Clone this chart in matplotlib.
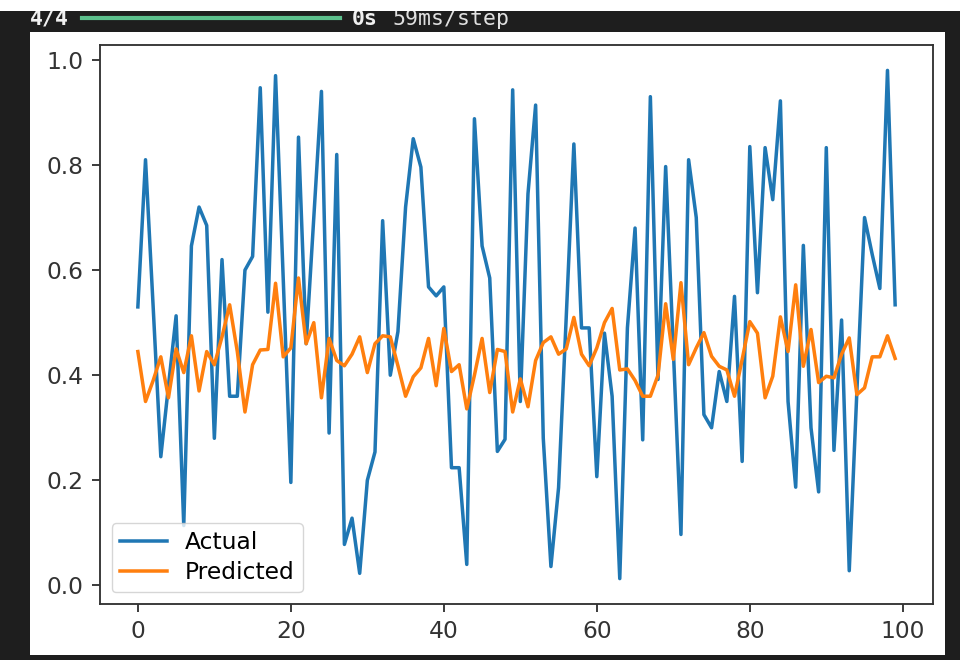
import numpy as np
import matplotlib
matplotlib.use("Agg")
import matplotlib.pyplot as plt
from matplotlib.patches import Rectangle
from matplotlib.lines import Line2D

# --- values (Actual vs Predicted, 100 samples) ---
actual = [0.53, 0.81, 0.53, 0.245, 0.38, 0.513, 0.114, 0.646, 0.72, 0.685,
          0.28, 0.62, 0.36, 0.36, 0.60, 0.626, 0.947, 0.52, 0.97, 0.585,
          0.196, 0.853, 0.46, 0.70, 0.94, 0.29, 0.82, 0.078, 0.128, 0.023,
          0.20, 0.254, 0.694, 0.40, 0.483, 0.72, 0.85, 0.796, 0.568, 0.551,
          0.568, 0.224, 0.224, 0.04, 0.888, 0.646, 0.585, 0.255, 0.278, 0.943,
          0.35, 0.745, 0.914, 0.28, 0.036, 0.186, 0.51, 0.84, 0.49, 0.49,
          0.207, 0.48, 0.36, 0.013, 0.49, 0.68, 0.277, 0.93, 0.392, 0.797,
          0.45, 0.097, 0.81, 0.70, 0.325, 0.30, 0.407, 0.35, 0.55, 0.236,
          0.835, 0.557, 0.833, 0.734, 0.922, 0.35, 0.187, 0.647, 0.30, 0.178,
          0.833, 0.257, 0.505, 0.028, 0.37, 0.70, 0.63, 0.565, 0.98, 0.534]

predicted = [0.445, 0.35, 0.39, 0.435, 0.357, 0.45, 0.405, 0.475, 0.37, 0.445,
             0.42, 0.473, 0.534, 0.445, 0.33, 0.42, 0.448, 0.449, 0.575, 0.435,
             0.452, 0.585, 0.46, 0.50, 0.357, 0.47, 0.428, 0.418, 0.44, 0.473,
             0.405, 0.46, 0.475, 0.473, 0.418, 0.36, 0.397, 0.414, 0.47, 0.38,
             0.489, 0.407, 0.42, 0.336, 0.40, 0.47, 0.367, 0.449, 0.445, 0.33,
             0.393, 0.34, 0.428, 0.462, 0.473, 0.44, 0.45, 0.51, 0.44, 0.418,
             0.452, 0.50, 0.527, 0.41, 0.412, 0.39, 0.36, 0.36, 0.40, 0.536,
             0.43, 0.576, 0.42, 0.452, 0.481, 0.436, 0.417, 0.41, 0.36, 0.43,
             0.502, 0.48, 0.357, 0.398, 0.511, 0.445, 0.572, 0.417, 0.487, 0.386,
             0.398, 0.395, 0.44, 0.471, 0.363, 0.376, 0.435, 0.435, 0.475, 0.432]

W, H = 960, 660
S = 1.68  # screenshot is an upscaled default figure

fig = plt.figure(figsize=(W / 100, H / 100), dpi=100, facecolor="#1e1e1e")

def box(x0, y0, x1, y1, color, z):
    # pixel box (top-left origin) -> figure coords
    fig.patches.append(Rectangle((x0 / W, 1 - y1 / H), (x1 - x0) / W, (y1 - y0) / H,
                                 transform=fig.transFigure, facecolor=color,
                                 edgecolor="none", zorder=z))

# white output cell and the strip of page above the dark notebook band
box(30, 32, 945, 655, "white", 1)
box(0, 0, W, 11, "white", 20)

# keras progress line
mono = "DejaVu Sans Mono"
ty = 1 - 25 / H
fig.text(30 / W, ty, "4/4", family=mono, weight="bold", fontsize=15.5,
         color="#f0f0f0", va="baseline", zorder=5)
fig.add_artist(Line2D([82 / W, 340 / W], [1 - 18 / H, 1 - 18 / H], color="#5cbf8c",
                      lw=3, transform=fig.transFigure, zorder=5))
fig.text(352 / W, ty, "0s", family=mono, weight="bold", fontsize=15.5,
         color="#f0f0f0", va="baseline", zorder=5)
fig.text(392 / W, ty, "59ms/step", family=mono, fontsize=15.5,
         color="#e0e0e0", va="baseline", zorder=5)

ax = fig.add_axes([100 / W, 56 / H, 833 / W, 559 / H])
ax.set_zorder(3)
x = np.arange(len(actual))
ax.plot(x, actual, label="Actual", color="#1f77b4", lw=1.5 * S)
ax.plot(x, predicted, label="Predicted", color="#ff7f0e", lw=1.5 * S)

ax.set_xticks([0, 20, 40, 60, 80, 100])
ax.set_yticks([0.0, 0.2, 0.4, 0.6, 0.8, 1.0])
ax.tick_params(labelsize=10 * S, length=3.5 * S, width=0.8 * S, pad=3.5 * S,
               colors="#333333")
for sp in ax.spines.values():
    sp.set_linewidth(0.8 * S)
    sp.set_color("#333333")

ax.legend(loc="lower left", fontsize=10 * S, borderaxespad=0.5,
          handlelength=2.0, labelspacing=0.3, borderpad=0.35)

fig.savefig("out.png", dpi=100, facecolor=fig.get_facecolor())
